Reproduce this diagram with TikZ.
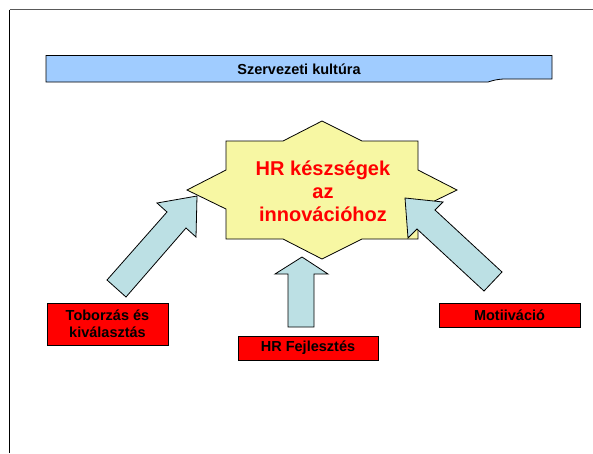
\documentclass[tikz,border=0pt]{standalone}
\usepackage{fontspec}
\setmainfont{Liberation Sans}
\begin{document}
\begin{tikzpicture}[x=1pt,y=-1pt,
  outl/.style={draw=black,line width=0.8pt,line join=miter},
  arrowshape/.style={outl,fill=arrowblue},
  redbox/.style={draw=black,line width=0.8pt,fill=red,inner sep=0pt,
     font=\fontsize{14.5}{17}\selectfont\bfseries,text=black,align=center},
]
\definecolor{arrowblue}{HTML}{BCE0E4}
\definecolor{bannerblue}{HTML}{A0CCFF}
\definecolor{staryellow}{HTML}{F7F7A3}
\useasboundingbox (0,0) rectangle (593,453);
\fill[white] (0,0) rectangle (593,453);
% frame
\draw[gray!70!black,line width=1pt] (9.5,9.5) -- (593,9.5);
\draw[black,line width=1pt] (9.5,9.5) -- (9.5,453);
% banner
\draw[outl,fill=bannerblue] (46,55.5) -- (552,55.5) -- (552,79) -- (506,79)
  .. controls (497,79) and (493,80.5) .. (488,82) -- (46,82) -- cycle;
\node[font=\fontsize{14.5}{17}\selectfont\bfseries] (banner) at (299,69) {Szervezeti kultúra};
% star
\draw[outl,fill=staryellow] (322,121) -- (362,141) -- (418,141) -- (418,170) -- (457,190)
  -- (418,209) -- (418,239) -- (362,239) -- (322,259) -- (283,239) -- (226,239)
  -- (226,209) -- (187,190) -- (226,170) -- (226,141) -- (283,141) -- cycle;
\node[font=\fontsize{20}{23}\selectfont\bfseries,text=red,align=center] (star) at (323,191)
  {HR készségek\\az\\innovációhoz};
% arrows
\draw[arrowshape] (197,196) -- (196,237) -- (186,228) -- (126,297) -- (107,280)
  -- (167,212) -- (157,203) -- cycle;
\draw[arrowshape] (302,257) -- (328,274) -- (314,274) -- (314,327) -- (288,327)
  -- (288,274) -- (275,274) -- cycle;
\draw[arrowshape] (405,198) -- (443,202) -- (435,210) -- (502,272) -- (484,291)
  -- (417,229) -- (408,238) -- cycle;
% boxes
\node[redbox,minimum width=121pt,minimum height=42pt] (tob) at (107.5,324)
  {Toborzás és\\kiválasztás};
\node[redbox,minimum width=140pt,minimum height=24pt] (hrf) at (308,348) {HR Fejlesztés};
\node[redbox,minimum width=141pt,minimum height=24pt] (mot) at (509.5,315) {Motiiváció};
\end{tikzpicture}
\end{document}
